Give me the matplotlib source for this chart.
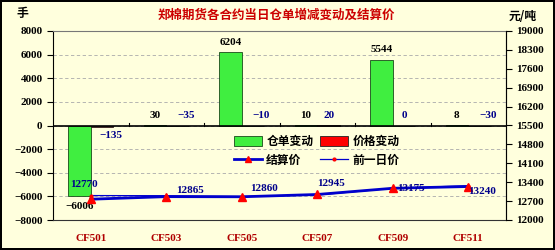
import numpy as np
import matplotlib.pyplot as plt
from matplotlib.lines import Line2D
from matplotlib.patches import Patch

contracts = ['CF501', 'CF503', 'CF505', 'CF507', 'CF509', 'CF511']
warrant_chg = [-6006, 30, 6204, 10, 5544, 8]
price_chg = [-135, -35, -10, 20, 0, -30]
settle = [12770, 12865, 12860, 12945, 13175, 13240]
prev_price = [12905, 12900, 12870, 12925, 13175, 13270]

bg = '#FFFFDD'
num_font = ['Liberation Serif', 'Noto Sans CJK SC']
cjk_font = ['Noto Sans CJK SC', 'DejaVu Sans']
navy = '#00008B'
dark_red = '#B00000'

fig = plt.figure(figsize=(5.55, 2.5), dpi=100)
fig.patch.set_facecolor(bg)
fig.patch.set_edgecolor('black')
fig.patch.set_linewidth(1.5)

ax = fig.add_axes([53/555, 1-220/250, (506-53)/555, (220-31)/250])
ax.set_facecolor(bg)
x = np.arange(len(contracts))
w = 0.30

ax.bar(x - w/2, warrant_chg, w, color='#40EE40', edgecolor='#1a4a1a', linewidth=0.6, zorder=2)
ax.bar(x + w/2, price_chg, w, color='#FF0000', edgecolor='#222222', linewidth=0.6, zorder=2)
ax.axhline(0, color='black', lw=1.2, zorder=3)
for b in np.arange(0.5, len(contracts) - 1, 1.0):
    ax.plot([b, b], [0, 200], color='black', lw=0.8, zorder=3)

ax.set_xlim(-0.5, len(contracts) - 0.5)
ax.set_ylim(-8000, 8000)
ax.set_yticks(np.arange(-8000, 8001, 2000))
ax.yaxis.grid(True, ls=(0, (4, 3)), color='#aaaaaa', lw=0.6)
ax.set_axisbelow(True)
ax.set_xticks(x)
ax.set_xticklabels(contracts)
ax.tick_params(axis='x', length=0, pad=10)
ax.tick_params(axis='y', length=4, direction='out', width=0.8)
for lab in ax.get_xticklabels():
    lab.set_family(num_font); lab.set_weight('bold'); lab.set_color(dark_red); lab.set_fontsize(8)
for lab in ax.get_yticklabels():
    lab.set_family(num_font); lab.set_weight('bold'); lab.set_fontsize(8)
for sp in ['top', 'right']:
    ax.spines[sp].set_color('#777777')
ax.spines['left'].set_color('black')
ax.spines['bottom'].set_color('#333333')

# warrant change labels
for xi, v in zip(x, warrant_chg):
    off = 4 if v >= 0 else -4
    ax.annotate(str(v).replace('-', '\u2212'), (xi - w/2, v), xytext=(0, off), textcoords='offset points',
                ha='center', va='bottom' if v >= 0 else 'top', fontsize=8, weight='bold', family=num_font)
# price change labels
red_off = [(6, -3), (6, 4), (6, 4), (0, 4), (0, 4), (6, 4)]
for xi, v, (dx, dy) in zip(x, price_chg, red_off):
    ax.annotate(str(v).replace('-', '\u2212'), (xi + w/2, v), xytext=(dx, dy), textcoords='offset points',
                ha='center', va='top' if dy < 0 else 'bottom', fontsize=8, weight='bold',
                family=num_font, color=navy)

ax2 = ax.twinx()
ax2.set_ylim(12000, 19000)
ax2.set_yticks(np.arange(12000, 19001, 700))
ax2.tick_params(axis='y', length=4, direction='out', width=0.8)
for lab in ax2.get_yticklabels():
    lab.set_family(num_font); lab.set_weight('bold'); lab.set_fontsize(8)
for sp in ['top', 'left', 'bottom']:
    ax2.spines[sp].set_visible(False)
ax2.spines['right'].set_color('black')

ax2.plot(x, prev_price, color='#0000CC', lw=0.9, marker='o', ms=2, mfc='red', mec='red', zorder=4)
ax2.plot(x, settle, color='#0000CC', lw=2, marker='^', ms=6, mfc='red', mec='red', zorder=5)

lab_off = [(-5, 7), (7, 1), (6, 3), (0, 5), (3, 0), (0, -0.5)]
lab_ha = ['center', 'left', 'left', 'left', 'left', 'left']
for xi, v, (dx, dy), ha in zip(x, settle, lab_off, lab_ha):
    ax2.annotate(str(v), (xi, v), xytext=(dx, dy), textcoords='offset points', ha=ha,
                 va='bottom' if dy > 0 else ('top' if dy < 0 else 'center'),
                 fontsize=8, weight='bold', family=num_font, color=navy, zorder=6)

handles = [Patch(facecolor='#40EE40', edgecolor='#1a4a1a', lw=0.6),
           Patch(facecolor='#FF0000', edgecolor='#222222', lw=0.6),
           Line2D([], [], color='#0000CC', lw=2, marker='^', ms=5, mfc='red', mec='red'),
           Line2D([], [], color='#0000CC', lw=0.9, marker='o', ms=2, mfc='red', mec='red')]
labels = ['仓单变动', '结算价', '价格变动', '前一日价']
handles = [handles[0], handles[2], handles[1], handles[3]]
leg = ax2.legend(handles, labels, ncol=2, frameon=False, loc='upper left',
                 bbox_to_anchor=(0.39, 0.475), prop={'family': cjk_font, 'weight': 'bold', 'size': 8.5},
                 handlelength=2.3, handleheight=0.9, columnspacing=0.6, handletextpad=0.4,
                 labelspacing=0.5, borderaxespad=0)

fig.text(276/555, 1-15/250, '郑棉期货各合约当日仓单增减变动及结算价', ha='center', va='center',
         color='#CC0000', fontsize=9, weight='bold', family=cjk_font)
fig.text(22/555, 1-14/250, '手', ha='center', va='center', fontsize=8.5, weight='bold', family=cjk_font)
fig.text(523/555, 1-16/250, '元/吨', ha='center', va='center', fontsize=8.5, weight='bold', family=cjk_font)

fig.savefig('out.png', dpi=100, facecolor=fig.get_facecolor(), edgecolor=fig.get_edgecolor())
